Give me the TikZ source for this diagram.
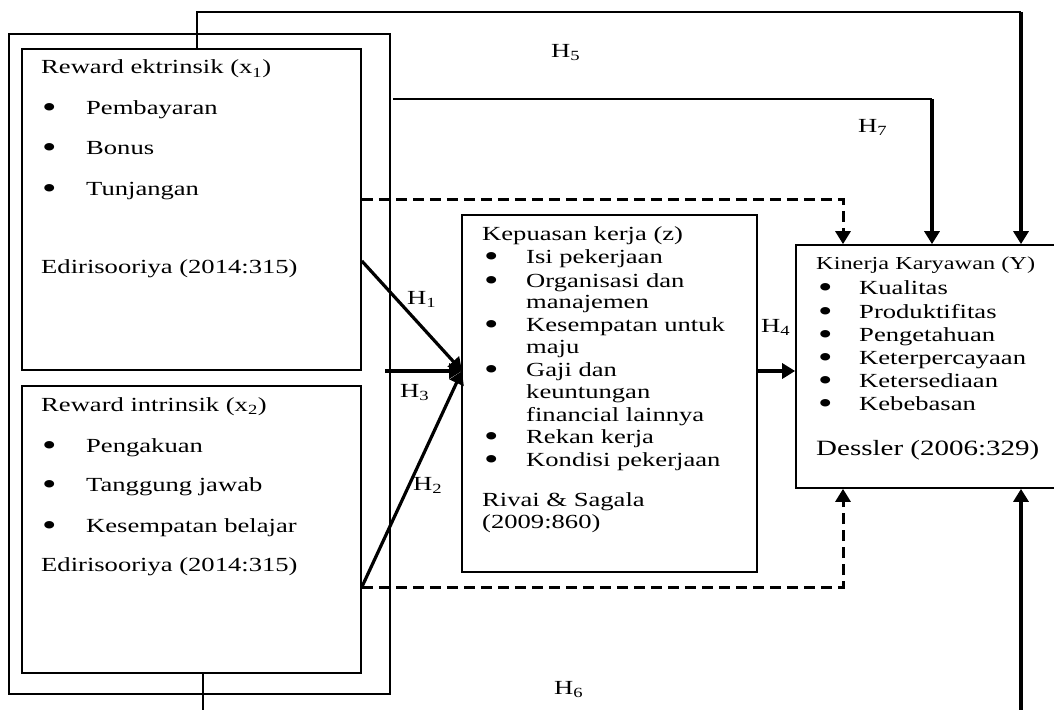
\documentclass[tikz,border=0pt]{standalone}
\usepackage{fontspec}
\setmainfont{Liberation Serif}[FakeStretch=1.33]
\usetikzlibrary{arrows.meta}
\tikzset{
  box/.style={draw, line width=1.7pt, inner sep=0pt},
  txt/.style={anchor=base west, inner sep=0pt, font=\fontsize{20}{24}\selectfont},
  smalltxt/.style={anchor=base west, inner sep=0pt, font=\fontsize{18.3}{22}\selectfont},
  bigtxt/.style={anchor=base west, inner sep=0pt, font=\fontsize{21.8}{26}\selectfont},
  thinline/.style={line width=1.7pt},
  thickarrow/.style={line width=3.2pt, -{Triangle[length=13pt,width=15pt]}},
  dasharrow/.style={line width=3pt, dash pattern=on 11pt off 6pt, -{Triangle[length=13pt,width=15pt]}},
}
\newcommand{\bigbul}{\smash{\raisebox{-3.5pt}{\scalebox{1.55}{\textbullet}}}}
\newcommand{\lbul}[1]{\makebox[44pt][l]{\bigbul}#1}
\newcommand{\mbul}[1]{\makebox[42pt][l]{\bigbul}#1}
\newcommand{\rbul}[1]{\makebox[41pt][l]{\bigbul}#1}
\begin{document}
\begin{tikzpicture}[x=1pt,y=-1pt]
\useasboundingbox (0,0) rectangle (1054,709);
\fill[white] (0,0) rectangle (1054,709);
% boxes
\node[box, minimum width=381pt, minimum height=660pt] (outer) at (199.5,364) {};
\node[box, minimum width=339pt, minimum height=321pt] (x1) at (191.5,209.5) {};
\node[box, minimum width=339pt, minimum height=287pt] (x2) at (191.5,529.5) {};
\node[box, minimum width=295pt, minimum height=357pt] (z) at (609.5,393.5) {};
\node[box, minimum width=274pt, minimum height=243pt] (y) at (933,366.5) {};
% x1 text
\node[txt] (x1t) at (41,74) {Reward ektrinsik (x\textsubscript{1})};
\node[txt] (x1a) at (42,114) {\lbul{Pembayaran}};
\node[txt] (x1b) at (42,154) {\lbul{Bonus}};
\node[txt] (x1c) at (42,195) {\lbul{Tunjangan}};
\node[txt] (x1r) at (41,273) {Edirisooriya (2014:315)};
% x2 text
\node[txt] (x2t) at (41,411) {Reward intrinsik (x\textsubscript{2})};
\node[txt] (x2a) at (42,452) {\lbul{Pengakuan}};
\node[txt] (x2b) at (42,491) {\lbul{Tanggung jawab}};
\node[txt] (x2c) at (42,532) {\lbul{Kesempatan belajar}};
\node[txt] (x2r) at (41,571) {Edirisooriya (2014:315)};
% z text
\node[txt] (zt) at (482,240) {Kepuasan kerja (z)};
\node[txt] (za) at (484,263) {\mbul{Isi pekerjaan}};
\node[txt] (zb) at (484,287) {\mbul{Organisasi dan}};
\node[txt] (zb2) at (526,308) {manajemen};
\node[txt] (zc) at (484,331) {\mbul{Kesempatan untuk}};
\node[txt] (zc2) at (526,353) {maju};
\node[txt] (zd) at (484,376) {\mbul{Gaji dan}};
\node[txt] (zd2) at (526,398) {keuntungan};
\node[txt] (zd3) at (526,421) {financial lainnya};
\node[txt] (ze) at (484,443) {\mbul{Rekan kerja}};
\node[txt] (zf) at (484,466) {\mbul{Kondisi pekerjaan}};
\node[txt] (zr) at (482,506) {Rivai \& Sagala};
\node[txt] (zr2) at (482,528) {(2009:860)};
% y text
\node[smalltxt] (yt) at (816,269) {Kinerja Karyawan (Y)};
\node[txt] (ya) at (818,294) {\rbul{Kualitas}};
\node[txt] (yb) at (818,318) {\rbul{Produktifitas}};
\node[txt] (yc) at (818,341) {\rbul{Pengetahuan}};
\node[txt] (yd) at (818,364) {\rbul{Keterpercayaan}};
\node[txt] (ye) at (818,387) {\rbul{Ketersediaan}};
\node[txt] (yf) at (818,410) {\rbul{Kebebasan}};
\node[bigtxt] (yr) at (816,455) {Dessler (2006:329)};
% coordinates
\coordinate (h5a) at (197,12);
\coordinate (h5b) at (1021,12);
\coordinate (h7a) at (393,99);
\coordinate (h7b) at (932,99);
\coordinate (d1) at (843,199);
\coordinate (d2) at (843,587);
\coordinate (q1) at (361,261);
\coordinate (q3) at (385,371);
\coordinate (zin) at (462,371);
\coordinate (h6a) at (203,712);
\coordinate (h6b) at (1021,712);
% H5
\draw[thinline] (h5a |- x1.north) -- (h5a) -- (h5b);
\draw[thickarrow] (h5b) -- (h5b |- y.north);
% H7
\draw[thinline] (h7a) -- (h7b);
\draw[thickarrow] (h7b) -- (h7b |- y.north);
% dashed upper
\draw[dasharrow] (x1.east |- d1) -- (d1) -- (d1 |- y.north);
% dashed lower
\draw[dasharrow] (x2.east |- d2) -- (d2) -- (d2 |- y.south);
% H1, H3, H2
\draw[thickarrow] (x1.east |- q1) -- (zin);
\draw[thickarrow] (q3) -- (zin);
\draw[thickarrow] (x2.east |- d2) -- (zin);
% H4
\draw[thickarrow] (z.east |- zin) -- (y.west |- zin);
% H6
\draw[thinline] (h6a |- x2.south) -- (h6a);
\draw[thickarrow] (h6b) -- (h6b |- y.south);
% labels
\node[txt] (l5) at (551,57) {H\textsubscript{5}};
\node[txt] (l7) at (858,132) {H\textsubscript{7}};
\node[txt] (l1) at (407,304) {H\textsubscript{1}};
\node[txt] (l3) at (400,397) {H\textsubscript{3}};
\node[txt] (l2) at (413,490) {H\textsubscript{2}};
\node[txt] (l4) at (761,332) {H\textsubscript{4}};
\node[txt] (l6) at (554,694) {H\textsubscript{6}};
\end{tikzpicture}
\end{document}
